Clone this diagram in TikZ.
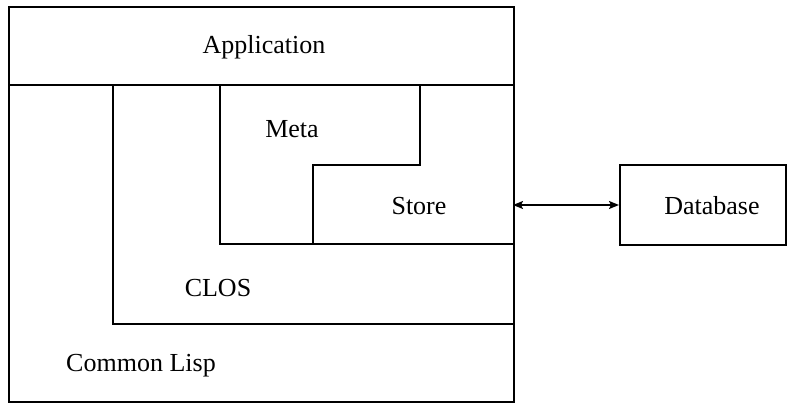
\documentclass[tikz,border=0pt]{standalone}
\usepackage{fontspec}
\setmainfont{Liberation Serif}
\usetikzlibrary{arrows.meta}
\begin{document}
\begin{tikzpicture}[x=1pt,y=-1pt,
  ln/.style={line width=1.8pt},
  lbl/.style={font=\fontsize{26}{30}\selectfont, inner sep=0pt, anchor=base},
  conn/.style={line width=1.6pt, {Stealth[length=10pt,width=8pt,inset=2pt]}-{Stealth[length=10pt,width=8pt,inset=2pt]}}]
\useasboundingbox (0,0) rectangle (798,404);
\node[draw, ln, minimum width=505pt, minimum height=395pt, anchor=north west, inner sep=0pt] (outer) at (8,6) {};
\node[draw, ln, minimum width=166pt, minimum height=80pt, anchor=north west, inner sep=0pt] (db) at (619,164) {};
\draw[ln] (8,85) -- (513,85);
\draw[ln] (113,85) -- (113,324) -- (513,324);
\draw[ln] (220,85) -- (220,244) -- (513,244);
\draw[ln] (420,85) -- (420,165) -- (313,165) -- (313,244);
\node[lbl] (app) at (264,54) {Application};
\node[lbl] (meta) at (292,137) {Meta};
\node[lbl] (store) at (419,214) {Store};
\node[lbl] (clos) at (218,296) {CLOS};
\node[lbl] (cl) at (141,371) {Common Lisp};
\node[lbl] (dbl) at (712,214) {Database};
\coordinate (sr) at (513,205);
\draw[conn] (sr) -- (db.west |- sr);
\end{tikzpicture}
\end{document}
